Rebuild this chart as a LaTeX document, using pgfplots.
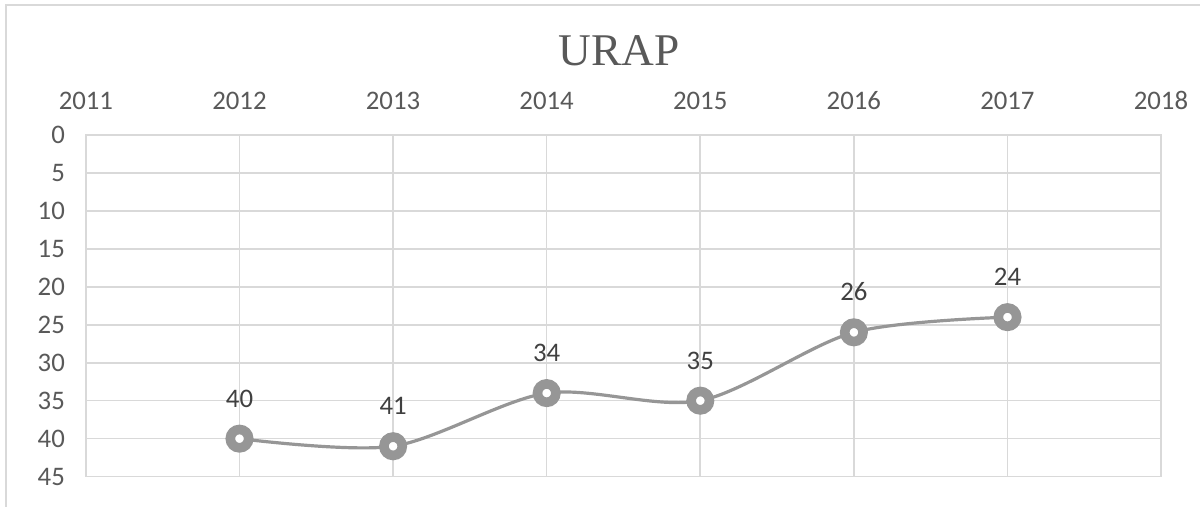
\documentclass[border=0pt]{standalone}
\usepackage{pgfplots}
\pgfplotsset{compat=1.18}
\usepackage{fontspec}
\setmainfont{Carlito}
\newfontfamily\titlefont{Liberation Serif}
\definecolor{gridc}{RGB}{217,217,217}
\definecolor{linec}{RGB}{150,150,150}
\definecolor{txtc}{RGB}{89,89,89}
\definecolor{lblc}{RGB}{64,64,64}
\begin{document}
\begin{tikzpicture}
\begin{axis}[
    scale only axis,
    width=538pt, height=171pt,
    xmin=2011, xmax=2018,
    ymin=0, ymax=45,
    y dir=reverse,
    xtick={2011,...,2018},
    ytick={0,5,...,45},
    xticklabel pos=top,
    major tick length=0pt,
    grid=major,
    grid style={gridc, line width=0.8pt},
    axis line style={gridc, line width=0.8pt},
    tick label style={font=\fontsize{13.4}{15}\selectfont, text=txtc},
    xticklabel style={yshift=9pt},
    yticklabel style={xshift=-7pt},
    /pgf/number format/.cd, 1000 sep={}, assume math mode=true,
    /pgfplots/.cd,
    clip=false,
    nodes near coords,
    every node near coord/.append style={font=\fontsize{13.4}{15}\selectfont, text=lblc, yshift=10pt},
]
\addplot[linec, line width=1.6pt, smooth, tension=0.5,
    mark=*, mark size=4.6pt,
    mark options={draw=linec, fill=white, line width=4.8pt}]
    coordinates {(2012,40) (2013,41) (2014,34) (2015,35) (2016,26) (2017,24)};
\node[font=\titlefont\fontsize{22.7}{26}\selectfont, text=txtc] at (axis description cs:0.496,1.246) {URAP};
\coordinate (A) at (axis description cs:-0.0799,-0.0877);
\coordinate (B) at (axis description cs:1.0362,1.3947);
\coordinate (F) at (axis description cs:-0.0743,1.380);
\end{axis}
\pgfresetboundingbox
\path (A) rectangle (B);
\draw[gridc, line width=1pt] (F |- A) -- (F) -- (F -| B);
\end{tikzpicture}
\end{document}
